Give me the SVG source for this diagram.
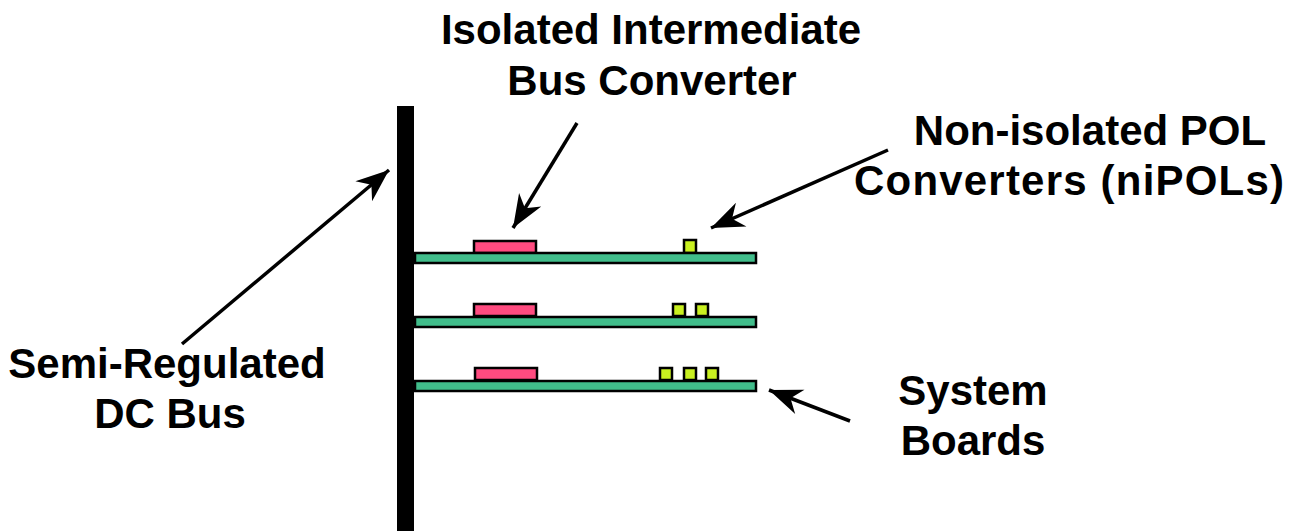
<svg xmlns="http://www.w3.org/2000/svg" width="1293" height="531" viewBox="0 0 1293 531">
<defs>
<style>
.lbl{font-family:"Liberation Sans",Arial,sans-serif;font-weight:bold;font-size:42px;fill:#000;text-anchor:middle}
.board{fill:#41bd8b;stroke:#000;stroke-width:2.5}
.ibc{fill:#ff4b80;stroke:#000;stroke-width:2.5}
.pol{fill:#c9f020;stroke:#000;stroke-width:2.5}
.arr{stroke:#000;stroke-width:3.5;fill:none;marker-end:url(#ah)}
</style>
<marker id="ah" markerUnits="userSpaceOnUse" markerWidth="40" markerHeight="30" viewBox="-34 -15 36 30" refX="0" refY="0" orient="auto">
<path d="M0,0 L-33,-13 L-23,0 L-33,13 Z" fill="#000"/>
</marker>
</defs>
<rect width="1293" height="531" fill="#fff"/>
<g id="bus"><rect x="397" y="106" width="17" height="425" fill="#000"/></g>
<g id="board1">
<rect class="ibc" x="474" y="241" width="62" height="12"/>
<rect class="pol" x="684" y="240" width="12" height="13"/>
<rect class="board" x="415" y="253" width="341" height="10"/>
</g>
<g id="board2">
<rect class="ibc" x="474" y="304" width="62" height="12"/>
<rect class="pol" x="673" y="304" width="12" height="12"/>
<rect class="pol" x="696" y="304" width="12" height="12"/>
<rect class="board" x="415" y="317" width="341" height="10"/>
</g>
<g id="board3">
<rect class="ibc" x="475" y="368" width="62" height="12"/>
<rect class="pol" x="660" y="368" width="12" height="12"/>
<rect class="pol" x="684" y="368" width="12" height="12"/>
<rect class="pol" x="706" y="368" width="12" height="12"/>
<rect class="board" x="415" y="381" width="341" height="10"/>
</g>
<g id="connectors">
<line class="arr" x1="182" y1="344" x2="389" y2="170"/>
<line class="arr" x1="577" y1="123" x2="513" y2="228"/>
<line class="arr" x1="888" y1="150" x2="711" y2="228"/>
<line class="arr" x1="850" y1="421" x2="769" y2="390"/>
</g>
<g id="label-ibc"><text class="lbl" x="651" y="44">Isolated Intermediate</text><text class="lbl" x="652" y="95">Bus Converter</text></g>
<g id="label-nipol"><text class="lbl" x="1090" y="145">Non-isolated POL</text><text class="lbl" x="1069" y="195" textLength="430">Converters (niPOLs)</text></g>
<g id="label-bus"><text class="lbl" x="167" y="378">Semi-Regulated</text><text class="lbl" x="170" y="428">DC Bus</text></g>
<g id="label-boards"><text class="lbl" x="973" y="405">System</text><text class="lbl" x="973" y="455">Boards</text></g>
</svg>
